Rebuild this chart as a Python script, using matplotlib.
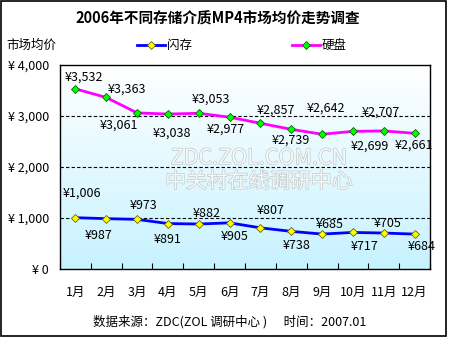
import numpy as np
import matplotlib.pyplot as plt
import matplotlib.patheffects as pe
from matplotlib.lines import Line2D
from matplotlib.patches import Rectangle

plt.rcParams['font.family'] = ['Noto Sans CJK SC', 'DejaVu Sans']

months = ['1月', '2月', '3月', '4月', '5月', '6月', '7月', '8月', '9月', '10月', '11月', '12月']
flash = [1006, 987, 973, 891, 882, 905, 807, 738, 685, 717, 705, 684]
hdd = [3532, 3363, 3061, 3038, 3053, 2977, 2857, 2739, 2642, 2699, 2707, 2661]
yticks = [0, 1000, 2000, 3000, 4000]

# value label offsets from each point, in pixels (dx right, dy up)
flash_off = [(7, 25), (-8, -17), (6, 14), (0, -16), (8, 11), (5, -14),
             (10, 17), (5, -14), (8, 10), (12, -14), (4, 10), (7, -12)]
hdd_off = [(9, 12), (21, 8), (-18, -12), (4, -19), (12, 14), (-4, -12),
           (15, 13), (0, -11), (4, 26), (17, -15), (-3, 19), (-1, -12)]

FS = 9

fig = plt.figure(figsize=(4.5, 3.37), dpi=100)
fig.patch.set_facecolor('white')
fig.patches.append(Rectangle((0.002, 0.003), 0.99, 0.994, transform=fig.transFigure,
                             fill=False, edgecolor='black', linewidth=1.2))

ax = fig.add_axes([60 / 450, 1 - 269 / 337, 370 / 450, 204 / 337])
x = np.arange(len(months))
ax.set_xlim(-0.5, len(months) - 0.5)
ax.set_ylim(0, 4000)

# white at the top fading to pale cyan at the bottom
grad = np.linspace(0, 1, 256).reshape(-1, 1)
top = np.array([1.0, 1.0, 1.0])
bot = np.array([0.78, 0.95, 1.0])
img = top + (bot - top) * grad[..., None]
ax.imshow(img, extent=[-0.5, len(months) - 0.5, 0, 4000], origin='upper', aspect='auto', zorder=0)

for v in yticks[1:-1]:
    ax.axhline(v, color='black', linestyle=(0, (3, 2)), linewidth=0.8, zorder=1)

# watermark
wm = [pe.withStroke(linewidth=0.9, foreground='#c4c4c4')]
ax.text(0.538, 0.543, 'ZDC.ZOL.COM.CN', transform=ax.transAxes, ha='center', va='center',
        fontsize=15.5, color='#f2fafc', zorder=1, path_effects=wm)
ax.text(0.538, 0.428, '中关村在线调研中心', transform=ax.transAxes, ha='center', va='center',
        fontsize=15, color='#f2fafc', zorder=1, path_effects=wm)

ax.plot(x, hdd, color='#ff00ff', linewidth=2, marker='D', markersize=4.5,
        markerfacecolor='#00ff00', markeredgecolor='#006600', markeredgewidth=0.6, zorder=3)
ax.plot(x, flash, color='#0000ff', linewidth=2, marker='D', markersize=4.5,
        markerfacecolor='#ffff00', markeredgecolor='#666600', markeredgewidth=0.6, zorder=3)

px = 72 / fig.dpi
for series, offs in ((flash, flash_off), (hdd, hdd_off)):
    for i, (v, (dx, dy)) in enumerate(zip(series, offs)):
        ax.annotate('¥{:,}'.format(v), (x[i], v), xytext=(dx * px, dy * px),
                    textcoords='offset points', ha='center', va='center', fontsize=FS, zorder=4)

ax.set_xticks(x)
ax.set_xticklabels(months, fontsize=FS)
ax.set_xticks(np.arange(-0.5, len(months)), minor=True)
ax.tick_params(axis='x', which='major', length=0, pad=12)
ax.tick_params(axis='x', which='minor', direction='in', length=4, width=0.8)
ax.set_yticks(yticks)
ax.set_yticklabels(['¥ {:,}'.format(v) for v in yticks], fontsize=FS)
ax.tick_params(axis='y', length=0, pad=8)
for sp in ax.spines.values():
    sp.set_linewidth(1)

fig.text(218 / 450, 1 - 19 / 337, '2006年不同存储介质MP4市场均价走势调查', ha='center', va='center',
         fontsize=10.5, fontweight='bold')
fig.text(6 / 450, 1 - 45 / 337, '市场均价', ha='left', va='center', fontsize=FS)
fig.text(230 / 450, 1 - 322 / 337, '数据来源：ZDC(ZOL 调研中心 )      时间：2007.01', ha='center',
         va='center', fontsize=FS)

handles = [
    Line2D([], [], color='#0000ff', linewidth=2, marker='D', markersize=4,
           markerfacecolor='#ffff00', markeredgecolor='#666600', markeredgewidth=0.6),
    Line2D([], [], color='#ff00ff', linewidth=2, marker='D', markersize=4,
           markerfacecolor='#00ff00', markeredgecolor='#006600', markeredgewidth=0.6),
]
fig.legend(handles, ['闪存', '硬盘'], loc='center left', bbox_to_anchor=(137 / 450, 1 - 46 / 337),
           ncol=2, frameon=False, fontsize=FS, handlelength=2.2, handletextpad=0.2,
           columnspacing=8, borderpad=0, borderaxespad=0)

fig.savefig('out.png', dpi=100)
